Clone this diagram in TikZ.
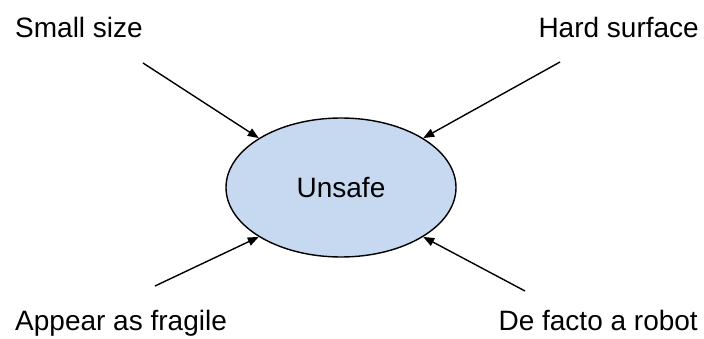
\documentclass[tikz,border=0pt]{standalone}
\usepackage{fontspec}
\setmainfont{Liberation Sans}
\usetikzlibrary{shapes.geometric,arrows.meta}
\definecolor{bubble}{RGB}{198,217,241}
\begin{document}
\begin{tikzpicture}[x=1pt,y=1pt,
  label/.style={inner sep=0pt,font=\fontsize{28}{31}\selectfont},
  factor/.style={line width=1.4pt,-{Triangle[length=11pt,width=8.5pt]}}]
  \useasboundingbox (0,0) rectangle (704,338);
  % central effect
  \node[ellipse,draw,line width=1.4pt,fill=bubble,minimum width=230pt,minimum height=139pt,
        inner sep=0pt,font=\fontsize{28}{31}\selectfont] (u) at (341,150.5) {Unsafe};
  % contributing factors
  \node[label,anchor=base west] (a) at (15,300.5) {Small size};
  \node[label,anchor=base east] (b) at (699,300.5) {Hard surface};
  \node[label,anchor=base west] (c) at (15,7.5) {Appear as fragile};
  \node[label,anchor=base east] (d) at (698,7.5) {De facto a robot};
  % arrow tails
  \coordinate (sa) at (143,275);
  \coordinate (sb) at (560,276);
  \coordinate (sc) at (155,52);
  \coordinate (sd) at (525,47);
  \draw[factor] (sa) -- (u.149);
  \draw[factor] (sb) -- (u.31);
  \draw[factor] (sc) -- (u.211);
  \draw[factor] (sd) -- (u.329);
\end{tikzpicture}
\end{document}
